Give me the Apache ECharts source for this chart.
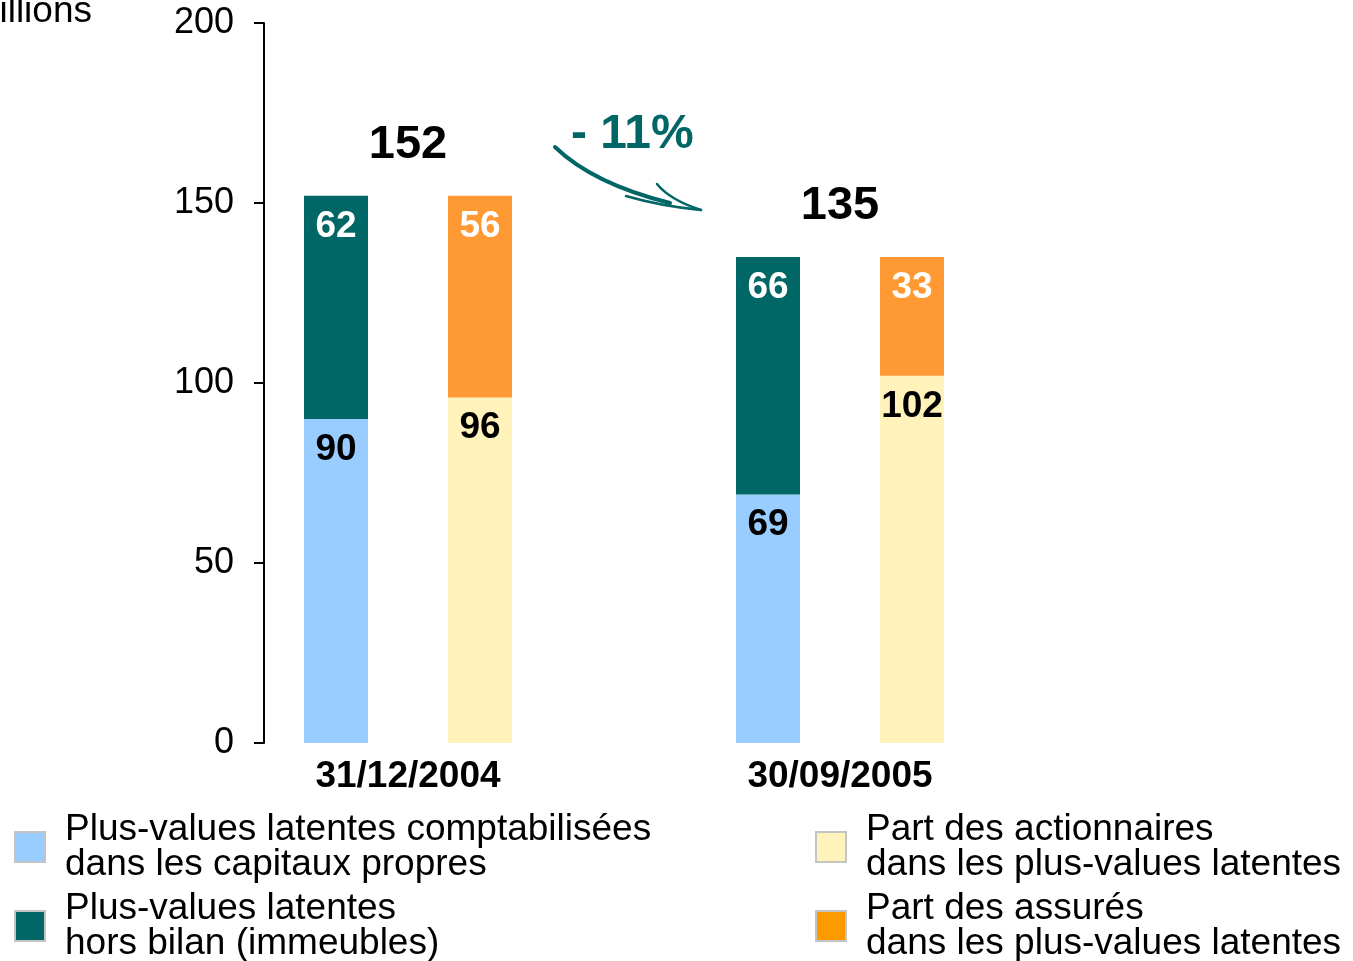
<!DOCTYPE html>
<html>
<head>
<meta charset="utf-8">
<script src="https://cdn.jsdelivr.net/npm/echarts@6/dist/echarts.min.js"></script>
<style>
  html, body { margin: 0; padding: 0; background: #fff; }
  #chart { width: 1353px; height: 961px; }
</style>
</head>
<body>
<div id="chart"></div>
<script>
// données (en millions)
const dates = ['31/12/2004', '30/09/2005'];
const comptabilisees = [90, 69];   // bleu
const horsBilan = [62, 66];        // vert foncé
const actionnaires = [96, 102];    // jaune pâle
const assures = [56, 33];          // orange
const totals = [152, 135];
const variation = '- 11%';
const yTicks = [0, 50, 100, 150, 200];

const seriesNames = [
  'Plus-values latentes comptabilisées',
  'Plus-values latentes hors bilan (immeubles)',
  'Part des actionnaires',
  'Part des assurés'
];
const legendLabels = {
  'Plus-values latentes comptabilisées': 'Plus-values latentes comptabilisées\ndans les capitaux propres',
  'Plus-values latentes hors bilan (immeubles)': 'Plus-values latentes\nhors bilan (immeubles)',
  'Part des actionnaires': 'Part des actionnaires\ndans les plus-values latentes',
  'Part des assurés': 'Part des assurés\ndans les plus-values latentes'
};

// 5 emplacements : [date1 gauche, date1 droite, vide, date2 gauche, date2 droite]
const slots = ['g0', 'd0', '', 'g1', 'd1'];
const leftSlot = (arr) => [arr[0], null, null, arr[1], null];
const rightSlot = (arr) => [null, arr[0], null, null, arr[1]];
// position des dates sur l'axe de valeur (0..5)
const datePos = [1, 4];

const FONT = '"Liberation Sans", Arial, Helvetica, sans-serif';

const chart = echarts.init(document.getElementById('chart'));

const barLabel = (color) => ({
  show: true,
  position: 'insideTop',
  distance: 12,
  color: color,
  fontSize: 37,
  fontWeight: 'bold',
  fontFamily: FONT
});

// une légende par élément (2 colonnes x 2 lignes)
const legendItem = (left, top, item) => ({
  left: left, top: top, orient: 'vertical', padding: 0,
  itemWidth: 30, itemHeight: 30, icon: 'rect',
  itemStyle: { borderColor: '#c4c4c4', borderWidth: 2 },
  formatter: (n) => legendLabels[n],
  textStyle: { fontSize: 37, lineHeight: 35, color: '#000', fontFamily: FONT, padding: [0, 0, 0, 15] },
  data: [item]
});

chart.setOption({
  animation: false,
  textStyle: { fontFamily: FONT },
  grid: { left: 264, top: 23, width: 720, height: 720, containLabel: false, outerBoundsMode: 'none' },
  xAxis: [
    { type: 'category', data: slots, show: false },
    {
      type: 'value', min: 0, max: 5, interval: 1, position: 'bottom',
      axisLine: { show: false }, axisTick: { show: false }, splitLine: { show: false },
      axisLabel: {
        margin: 15, color: '#000', fontSize: 37, fontWeight: 'bold', fontFamily: FONT,
        formatter: (v) => { const i = datePos.indexOf(v); return i >= 0 ? dates[i] : ''; }
      }
    }
  ],
  yAxis: {
    type: 'value', min: 0, max: 200, interval: 50,
    name: 'En millions',
    nameLocation: 'end',
    nameGap: 11,
    nameTextStyle: { align: 'right', verticalAlign: 'middle', padding: [0, 172, 0, 0], fontSize: 37, color: '#000', fontFamily: FONT },
    axisLine: { show: true, lineStyle: { color: '#000', width: 2 } },
    axisTick: { show: true, length: 10, lineStyle: { color: '#000', width: 2 } },
    splitLine: { show: false },
    axisLabel: {
      margin: 30, color: '#000', fontSize: 36, fontFamily: FONT,
      formatter: (v) => yTicks.includes(v) ? String(v) : ''
    }
  },
  legend: [
    legendItem(14, 811, seriesNames[0]),
    legendItem(14, 890, seriesNames[1]),
    legendItem(815, 811, seriesNames[2]),
    legendItem(815, 890, { name: seriesNames[3], itemStyle: { color: '#FF9900' } })
  ],
  series: [
    {
      name: seriesNames[0], type: 'bar', stack: 'total', barWidth: 64,
      data: leftSlot(comptabilisees),
      itemStyle: { color: '#99CCFF' }, label: barLabel('#000')
    },
    {
      name: seriesNames[1], type: 'bar', stack: 'total', barWidth: 64,
      data: leftSlot(horsBilan),
      itemStyle: { color: '#006666' }, label: barLabel('#fff')
    },
    {
      name: seriesNames[2], type: 'bar', stack: 'total', barWidth: 64,
      data: rightSlot(actionnaires),
      itemStyle: { color: '#FFF2BB' }, label: barLabel('#000')
    },
    {
      name: seriesNames[3], type: 'bar', stack: 'total', barWidth: 64,
      data: rightSlot(assures),
      itemStyle: { color: '#FF9933' }, label: barLabel('#fff')
    },
    {
      name: 'Total', type: 'scatter', xAxisIndex: 1, symbolSize: 0,
      itemStyle: { opacity: 1 },
      data: totals.map((t, i) => [datePos[i], t]),
      label: {
        show: true, position: 'top', distance: 27,
        formatter: (p) => String(p.value[1]),
        color: '#000', fontSize: 47, fontWeight: 'bold', fontFamily: FONT
      }
    }
  ],
  graphic: [
    {
      type: 'text', left: 571, top: 111,
      style: { text: variation, fill: '#006666', font: 'bold 48px ' + FONT }
    },
    {
      type: 'bezierCurve',
      shape: { x1: 555, y1: 147, cpx1: 585, cpy1: 176, cpx2: 630, cpy2: 193, x2: 670, y2: 203 },
      style: { stroke: '#006666', lineWidth: 4, fill: null, lineCap: 'round' }
    },
    {
      type: 'bezierCurve',
      shape: { x1: 626, y1: 196, cpx1: 660, cpy1: 206, x2: 701, y2: 210 },
      style: { stroke: '#006666', lineWidth: 2.5, fill: null, lineCap: 'round' }
    },
    {
      type: 'bezierCurve',
      shape: { x1: 657, y1: 184, cpx1: 670, cpy1: 200, x2: 701, y2: 210 },
      style: { stroke: '#006666', lineWidth: 2.5, fill: null, lineCap: 'round' }
    }
  ]
});

window.addEventListener('resize', () => chart.resize());
</script>
</body>
</html>
